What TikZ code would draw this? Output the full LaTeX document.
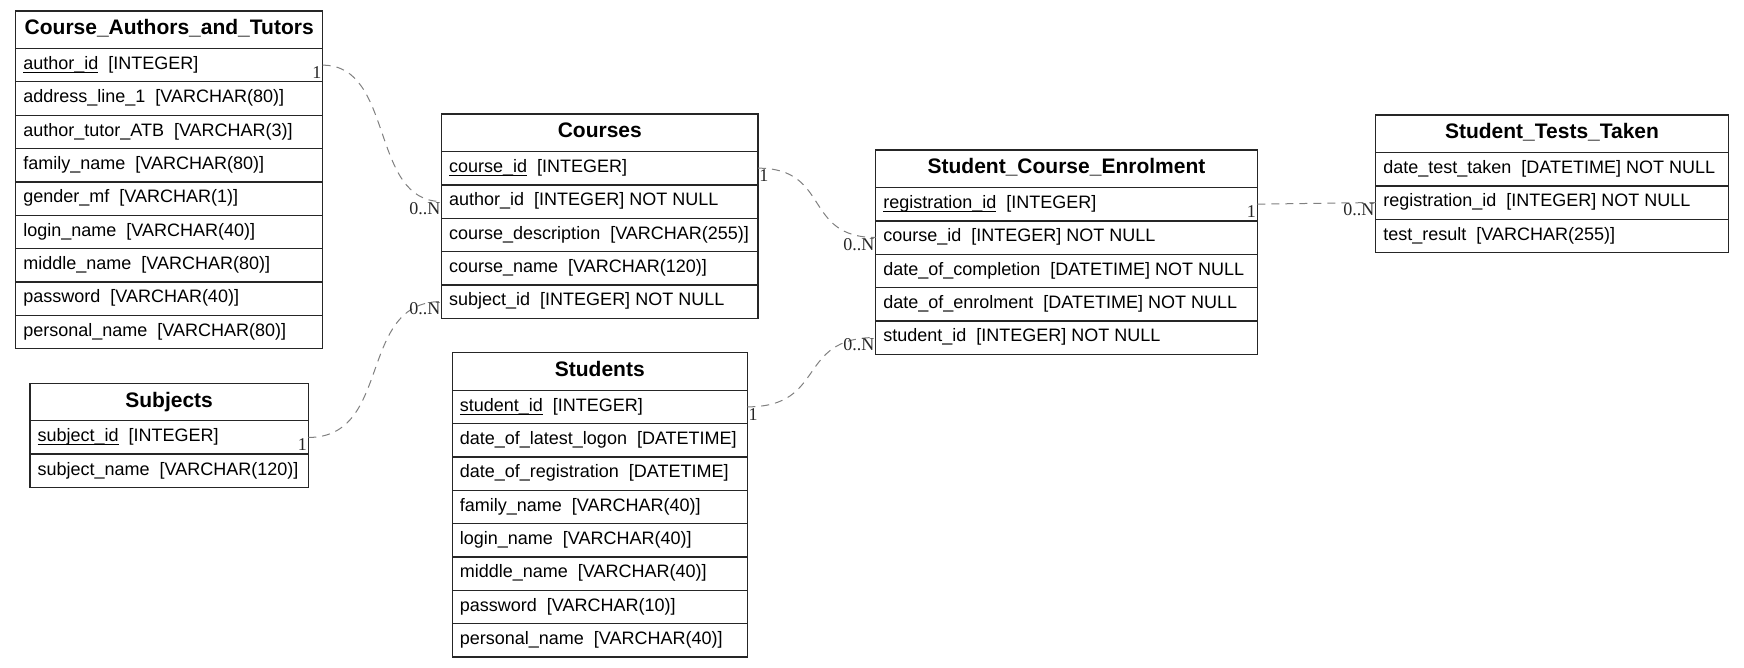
\documentclass[tikz,border=0pt]{standalone}
\usepackage{fontspec}
\setmainfont{Liberation Sans}
\newfontfamily\labserif{Liberation Serif}
\newcommand\rowf{\fontsize{13.5pt}{16pt}\selectfont}
\newcommand\hdrf{\fontsize{15.75pt}{18pt}\selectfont\bfseries}
\newcommand\labf{\labserif\fontsize{13.5pt}{16pt}\selectfont}
\newcommand\pkey[1]{\setbox0\hbox{#1}\rlap{\rule[-0.2em]{\wd0}{0.06em}}\box0}
\begin{document}
\begin{tikzpicture}[x=0.75pt,y=-0.75pt,
  tbl/.style={draw=black!85,line width=1pt,outer sep=0pt,anchor=north west},
  hdr/.style={tbl,minimum width=#1,minimum height=28.125pt,inner sep=0pt,font=\hdrf,text height=11.25pt,text depth=3.5pt},
  fld/.style={tbl,inner xsep=5.7pt,inner ysep=0pt,minimum height=25pt,font=\rowf,text height=9.75pt,text depth=3.25pt,
    execute at begin node={\hbox to #1\bgroup},execute at end node={\hfil\egroup}},
  rel/.style={draw=black!50,line width=0.75pt,dash pattern=on 6pt off 4.5pt},
  card/.style={font=\labf,inner sep=0.8pt,text=black!85}]
\useasboundingbox (0,0) rectangle (1744,667);

% Course_Authors_and_Tutors
\node[hdr=230.25pt] (cat) at (15.7,11) {Course\_Authors\_and\_Tutors};
\node[fld=218.85pt] (cat1) at (cat.south west) {\pkey{author\_id}\ \ [INTEGER]};
\node[fld=218.85pt] (cat2) at (cat1.south west) {address\_line\_1\ \ [VARCHAR(80)]};
\node[fld=218.85pt] (cat3) at (cat2.south west) {author\_tutor\_ATB\ \ [VARCHAR(3)]};
\node[fld=218.85pt] (cat4) at (cat3.south west) {family\_name\ \ [VARCHAR(80)]};
\node[fld=218.85pt] (cat5) at (cat4.south west) {gender\_mf\ \ [VARCHAR(1)]};
\node[fld=218.85pt] (cat6) at (cat5.south west) {login\_name\ \ [VARCHAR(40)]};
\node[fld=218.85pt] (cat7) at (cat6.south west) {middle\_name\ \ [VARCHAR(80)]};
\node[fld=218.85pt] (cat8) at (cat7.south west) {password\ \ [VARCHAR(40)]};
\node[fld=218.85pt] (cat9) at (cat8.south west) {personal\_name\ \ [VARCHAR(80)]};

% Subjects
\node[hdr=208.7pt] (sub) at (30,383.3) {Subjects};
\node[fld=197.3pt] (sub1) at (sub.south west) {\pkey{subject\_id}\ \ [INTEGER]};
\node[fld=197.3pt] (sub2) at (sub1.south west) {subject\_name\ \ [VARCHAR(120)]};

% Courses
\node[hdr=237.3pt] (co) at (441.6,114) {Courses};
\node[fld=225.9pt] (co1) at (co.south west) {\pkey{course\_id}\ \ [INTEGER]};
\node[fld=225.9pt] (co2) at (co1.south west) {author\_id\ \ [INTEGER] NOT NULL};
\node[fld=225.9pt] (co3) at (co2.south west) {course\_description\ \ [VARCHAR(255)]};
\node[fld=225.9pt] (co4) at (co3.south west) {course\_name\ \ [VARCHAR(120)]};
\node[fld=225.9pt] (co5) at (co4.south west) {subject\_id\ \ [INTEGER] NOT NULL};

% Students
\node[hdr=221.25pt] (st) at (452.3,352.7) {Students};
\node[fld=209.85pt] (st1) at (st.south west) {\pkey{student\_id}\ \ [INTEGER]};
\node[fld=209.85pt] (st2) at (st1.south west) {date\_of\_latest\_logon\ \ [DATETIME]};
\node[fld=209.85pt] (st3) at (st2.south west) {date\_of\_registration\ \ [DATETIME]};
\node[fld=209.85pt] (st4) at (st3.south west) {family\_name\ \ [VARCHAR(40)]};
\node[fld=209.85pt] (st5) at (st4.south west) {login\_name\ \ [VARCHAR(40)]};
\node[fld=209.85pt] (st6) at (st5.south west) {middle\_name\ \ [VARCHAR(40)]};
\node[fld=209.85pt] (st7) at (st6.south west) {password\ \ [VARCHAR(10)]};
\node[fld=209.85pt] (st8) at (st7.south west) {personal\_name\ \ [VARCHAR(40)]};

% Student_Course_Enrolment
\node[hdr=286.2pt] (sce) at (875.7,150) {Student\_Course\_Enrolment};
\node[fld=274.8pt] (sce1) at (sce.south west) {\pkey{registration\_id}\ \ [INTEGER]};
\node[fld=274.8pt] (sce2) at (sce1.south west) {course\_id\ \ [INTEGER] NOT NULL};
\node[fld=274.8pt] (sce3) at (sce2.south west) {date\_of\_completion\ \ [DATETIME] NOT NULL};
\node[fld=274.8pt] (sce4) at (sce3.south west) {date\_of\_enrolment\ \ [DATETIME] NOT NULL};
\node[fld=274.8pt] (sce5) at (sce4.south west) {student\_id\ \ [INTEGER] NOT NULL};

% Student_Tests_Taken
\node[hdr=264.45pt] (stt) at (1375.7,115) {Student\_Tests\_Taken};
\node[fld=253.05pt] (stt1) at (stt.south west) {date\_test\_taken\ \ [DATETIME] NOT NULL};
\node[fld=253.05pt] (stt2) at (stt1.south west) {registration\_id\ \ [INTEGER] NOT NULL};
\node[fld=253.05pt] (stt3) at (stt2.south west) {test\_result\ \ [VARCHAR(255)]};

% relations
\draw[rel] (cat1.east) .. controls +(72,0) and +(-72,0) .. (co2.west);
\draw[rel] (sub1.east) .. controls +(85,0) and +(-85,0) .. (co5.west);
\draw[rel] (co1.east) .. controls +(73,0) and +(-73,0) .. (sce2.west);
\draw[rel] (st1.east) .. controls +(80,0) and +(-80,0) .. (sce5.west);
\draw[rel] (sce1.east) -- (stt2.west);

\node[card,anchor=north east] (l1a) at (cat1.east) {1};
\node[card,anchor=north east] (l1b) at (co2.west) {0..N};
\node[card,anchor=north east] (l2a) at (sub1.east) {1};
\node[card,anchor=north east] (l2b) at (co5.west) {0..N};
\node[card,anchor=north west] (l3a) at (co1.east) {1};
\node[card,anchor=north east] (l3b) at (sce2.west) {0..N};
\node[card,anchor=north west] (l4a) at (st1.east) {1};
\node[card,anchor=north east] (l4b) at (sce5.west) {0..N};
\node[card,anchor=north east] (l5a) at (sce1.east) {1};
\node[card,anchor=north east] (l5b) at (stt2.west) {0..N};
\end{tikzpicture}
\end{document}
